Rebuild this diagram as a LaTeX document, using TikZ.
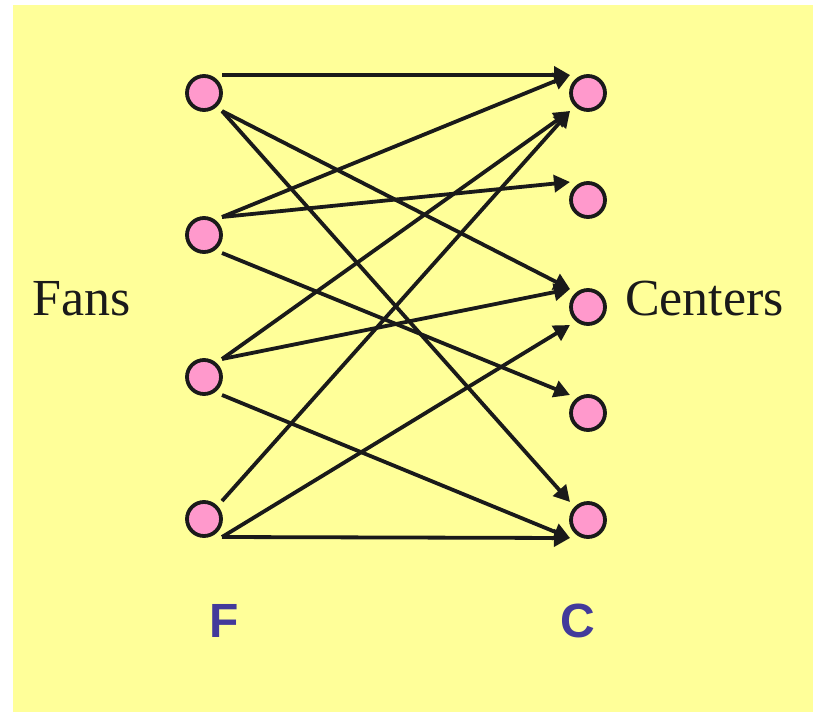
\documentclass[tikz,border=0pt]{standalone}
\usepackage{fontspec}
\setmainfont{Liberation Serif}
\newfontfamily\arialf{Liberation Sans}
\usetikzlibrary{arrows.meta}
\definecolor{bgyellow}{HTML}{FFFF99}
\definecolor{dotpink}{HTML}{FF99CC}
\definecolor{inkdark}{HTML}{1A1A1A}
\definecolor{letterblue}{HTML}{433A9B}
\tikzset{
  dotcirc/.style={circle, draw=inkdark, fill=dotpink, line width=3.8pt, minimum size=34pt, inner sep=0pt},
  dot/.style={rectangle, draw=none, minimum size=36pt, inner sep=0pt, outer sep=0pt,
              label={[dotcirc]center:{}}},
  arr/.style={draw=inkdark, line width=3.8pt, -{Triangle[length=16pt,width=17pt]}},
  sidetext/.style={font=\fontsize{52}{60}\selectfont, text=inkdark, inner sep=0pt, anchor=base west},
  setlabel/.style={font=\arialf\bfseries\fontsize{48}{56}\selectfont, text=letterblue, inner sep=0pt, anchor=base}
}
\begin{document}
\begin{tikzpicture}[x=1pt,y=-1pt]
\useasboundingbox (0,0) rectangle (813,712);
\fill[white] (0,0) rectangle (813,712);
\fill[bgyellow] (13,5) rectangle (813,712);
% fans
\node[dot] (f1) at (204,93) {};
\node[dot] (f2) at (204,235) {};
\node[dot] (f3) at (204,377) {};
\node[dot] (f4) at (204,519) {};
% centers
\node[dot] (c1) at (588,93) {};
\node[dot] (c2) at (588,200) {};
\node[dot] (c3) at (588,307) {};
\node[dot] (c4) at (588,413) {};
\node[dot] (c5) at (588,520) {};
% edges
\draw[arr] (f1.north east) -- (c1.north west);
\draw[arr] (f1.south east) -- (c3.north west);
\draw[arr] (f1.south east) -- (c5.north west);
\draw[arr] (f2.north east) -- (c1.north west);
\draw[arr] (f2.north east) -- (c2.north west);
\draw[arr] (f2.south east) -- (c4.north west);
\draw[arr] (f3.north east) -- (c1.south west);
\draw[arr] (f3.north east) -- (c3.north west);
\draw[arr] (f3.south east) -- (c5.south west);
\draw[arr] (f4.north east) -- (c1.south west);
\draw[arr] (f4.south east) -- (c3.south west);
\draw[arr] (f4.south east) -- (c5.south west);
% texts
\node[sidetext] (fans) at (32,315) {Fans};
\node[sidetext] (centers) at (625,315) {Centers};
\node[setlabel] (lf) at (224,637) {F};
\node[setlabel] (lc) at (578,637) {C};
\end{tikzpicture}
\end{document}
